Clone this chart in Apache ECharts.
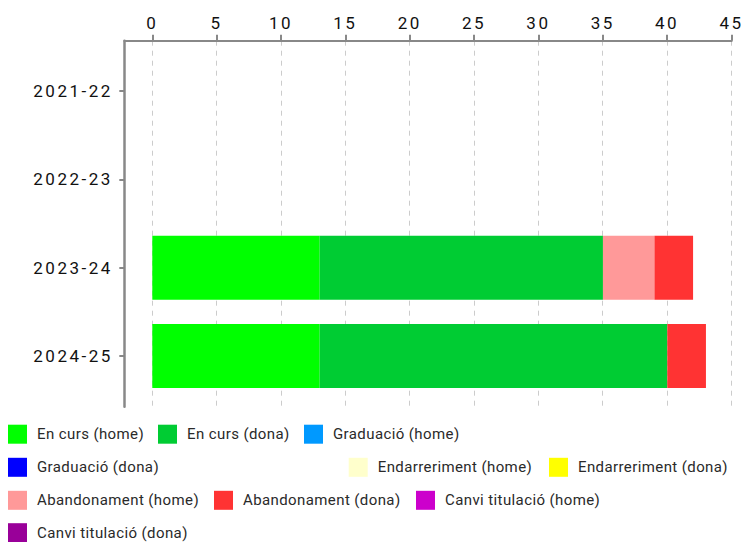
<!DOCTYPE html>
<html>
<head>
<meta charset="utf-8">
<script src="https://cdn.jsdelivr.net/npm/echarts@6/dist/echarts.min.js"></script>
<style>
  html, body { margin: 0; padding: 0; background: #fff; }
  #main { width: 744px; height: 542px; }
  #main text[style*="17px"] { letter-spacing: 2.5px; }
  #main text[style*="15px"] { letter-spacing: 0.4px; }
</style>
</head>
<body>
<div id="main"></div>
<script>
// ---- data ----
const years = ['2021-22', '2022-23', '2023-24', '2024-25'];
const enCursHome = [0, 0, 13, 13];
const enCursDona = [0, 0, 22, 27];
const graduacioHome = [0, 0, 0, 0];
const graduacioDona = [0, 0, 0, 0];
const endarrerimentHome = [0, 0, 0, 0];
const endarrerimentDona = [0, 0, 0, 0];
const abandonamentHome = [0, 0, 4, 0];
const abandonamentDona = [0, 0, 3, 3];
const canviHome = [0, 0, 0, 0];
const canviDona = [0, 0, 0, 0];
const seriesNames = ['En curs (home)', 'En curs (dona)', 'Graduació (home)', 'Graduació (dona)',
  'Endarreriment (home)', 'Endarreriment (dona)', 'Abandonament (home)', 'Abandonament (dona)',
  'Canvi titulació (home)', 'Canvi titulació (dona)'];
const seriesValues = [enCursHome, enCursDona, graduacioHome, graduacioDona,
  endarrerimentHome, endarrerimentDona, abandonamentHome, abandonamentDona, canviHome, canviDona];
const xMin = 0, xMax = 45, xInterval = 5;

// ---- styles ----
const colors = ['#00ff00', '#00cc33', '#0099ff', '#0000ff', '#ffffcc', '#ffff00',
  '#ff9999', '#ff3333', '#cc00cc', '#990099'];
const legendPos = [
  [8, 424.7], [158, 424.7], [304, 424.7],
  [8, 457.8], [348.7, 457.8], [549, 457.8],
  [8, 490.8], [214, 490.8], [416, 490.8],
  [8, 523.2]
];
const axisGrey = '#888888';
const font = 'Roboto';

const chart = echarts.init(document.getElementById('main'), null, { renderer: 'svg' });

const series = seriesNames.map((name, i) => ({
  name: name,
  type: 'bar',
  stack: 'total',
  xAxisIndex: 0,
  yAxisIndex: 0,
  barWidth: 64,
  itemStyle: { color: colors[i] },
  emphasis: { disabled: true },
  data: seriesValues[i]
}));

const legends = seriesNames.map((name, i) => ({
  data: [name],
  left: legendPos[i][0],
  top: legendPos[i][1],
  padding: 0,
  icon: 'rect',
  itemWidth: 19,
  itemHeight: 19,
  selectedMode: false,
  textStyle: { fontSize: 15, color: '#2a2a2a', fontFamily: font, padding: [0, 0, 0, 5] }
}));

const hidden = { show: false };

chart.setOption({
  animation: false,
  color: colors,
  legend: legends,
  grid: [
    // 0: data area
    { left: 152.3, right: 12.3, top: 46.85, bottom: 141.85 },
    // 1: frame lines
    { left: 124.3, right: 12.3, top: 40.7, bottom: 135.3 },
    // 2: x labels, ticks and dashed grid lines
    { left: 152.3, right: 12.3, top: 40.7, bottom: 135.3 },
    // 3: y labels and ticks
    { left: 124.3, right: 12.3, top: 46.85, bottom: 141.85 }
  ],
  xAxis: [
    { gridIndex: 0, type: 'value', min: xMin, max: xMax, interval: xInterval, show: false },
    {
      gridIndex: 1, type: 'value', position: 'top', min: 0, max: 1,
      axisLine: { show: true, lineStyle: { color: axisGrey, width: 2 } },
      axisTick: hidden, axisLabel: hidden, splitLine: hidden
    },
    {
      gridIndex: 2, type: 'value', position: 'top',
      min: xMin, max: xMax, interval: xInterval,
      axisLine: { show: false },
      axisTick: { show: true, length: 6, lineStyle: { color: axisGrey, width: 2 } },
      axisLabel: { fontSize: 17, color: '#111', fontFamily: font, margin: 9 },
      splitLine: { show: true, lineStyle: { color: '#cccccc', width: 1, type: [5, 5] } }
    },
    { gridIndex: 3, type: 'value', min: 0, max: 1, show: false }
  ],
  yAxis: [
    { gridIndex: 0, type: 'category', data: years, inverse: true, show: false },
    {
      gridIndex: 1, type: 'category', data: years, inverse: true,
      axisLine: { show: true, lineStyle: { color: axisGrey, width: 2.5 } },
      axisTick: hidden, axisLabel: hidden, splitLine: hidden
    },
    { gridIndex: 2, type: 'category', data: years, inverse: true, show: false },
    {
      gridIndex: 3, type: 'category', data: years, inverse: true,
      axisLine: { show: false },
      axisTick: { show: true, alignWithLabel: true, length: 5, lineStyle: { color: axisGrey, width: 2 } },
      axisLabel: { fontSize: 17, color: '#111', fontFamily: font, margin: 11.5 },
      splitLine: hidden
    }
  ],
  series: series
});
</script>
</body>
</html>
